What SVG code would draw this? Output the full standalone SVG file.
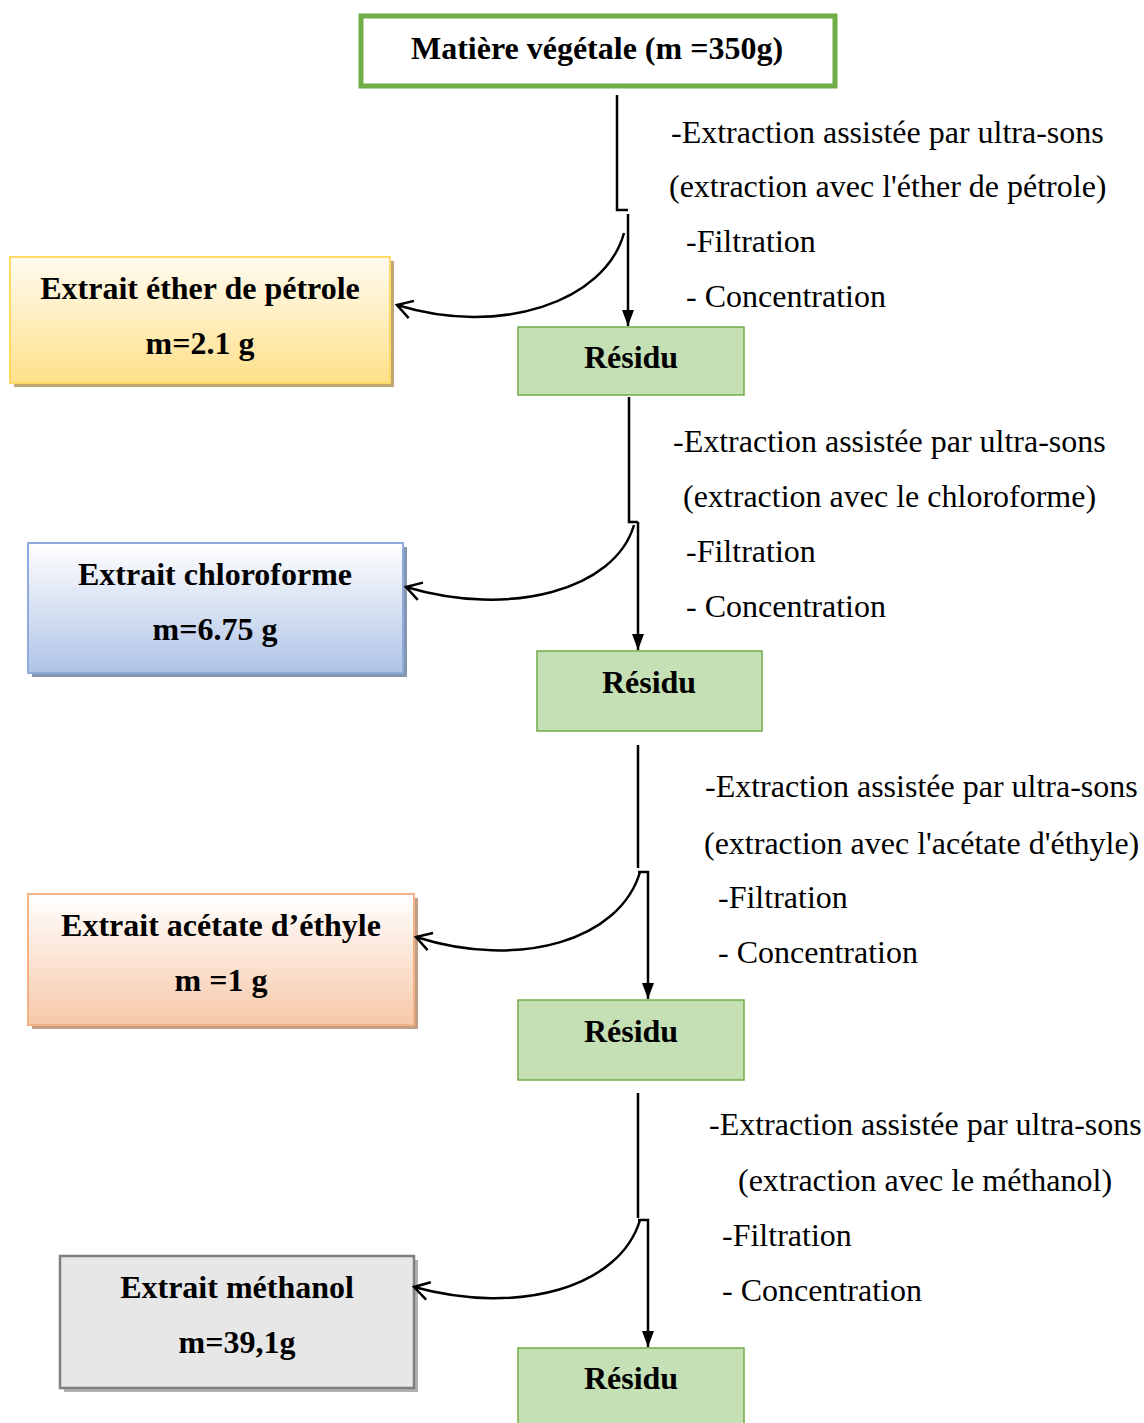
<svg xmlns="http://www.w3.org/2000/svg" width="1144" height="1423" viewBox="0 0 1144 1423">
<style>
.b{font-family:"Liberation Serif",Tinos,"Times New Roman",Times,"DejaVu Serif",serif;font-weight:bold;font-size:32px;fill:#000;text-anchor:middle}
.r{font-family:"Liberation Serif",Tinos,"Times New Roman",Times,"DejaVu Serif",serif;font-size:32px;fill:#000}
.ln{fill:none;stroke:#000;stroke-width:2.5}
.res{fill:#C5E0B4;stroke:#70AD47;stroke-width:1.5}
</style>
<defs>
<linearGradient id="gy" x1="0" y1="0" x2="0" y2="1"><stop offset="0" stop-color="#FFFBF0"/><stop offset="1" stop-color="#FFE08A"/></linearGradient>
<linearGradient id="gb" x1="0" y1="0" x2="0" y2="1"><stop offset="0" stop-color="#FFFFFF"/><stop offset="1" stop-color="#AFC3E6"/></linearGradient>
<linearGradient id="go" x1="0" y1="0" x2="0" y2="1"><stop offset="0" stop-color="#FFFFFF"/><stop offset="1" stop-color="#F7C8A8"/></linearGradient>
<marker id="fa" viewBox="0 0 16 12" refX="16" refY="6" markerWidth="16" markerHeight="12" markerUnits="userSpaceOnUse" orient="auto"><path d="M0,0 L16,6 L0,12 Z" fill="#000"/></marker>
<marker id="oa" viewBox="-18 -11 20 22" refX="0" refY="0" markerWidth="20" markerHeight="22" markerUnits="userSpaceOnUse" orient="auto" overflow="visible"><path d="M-15,-9 L0,0 L-15,9" fill="none" stroke="#000" stroke-width="2.5"/></marker>
</defs>

<g id="n-matiere">
<rect x="361" y="16" width="474" height="70" fill="#fff" stroke="#70AD47" stroke-width="5"/>
<text class="b" x="597" y="59">Matière végétale (m =350g)</text>
</g>

<g id="n-ether">
<rect x="14" y="261" width="380" height="126" fill="#BFA870"/>
<rect x="10" y="257" width="380" height="126" fill="url(#gy)" stroke="#FFD966" stroke-width="2"/>
<text class="b" x="200" y="299">Extrait éther de pétrole</text>
<text class="b" x="200" y="354">m=2.1 g</text>
</g>

<g id="n-residu1">
<rect x="518" y="327" width="226" height="68" class="res"/>
<text class="b" x="631" y="368">Résidu</text>
</g>

<g id="n-chloro">
<rect x="32" y="547" width="375" height="130" fill="#8496B0"/>
<rect x="28" y="543" width="375" height="130" fill="url(#gb)" stroke="#8FAADC" stroke-width="2"/>
<text class="b" x="215" y="585">Extrait chloroforme</text>
<text class="b" x="215" y="640">m=6.75 g</text>
</g>

<g id="n-residu2">
<rect x="537" y="651" width="225" height="80" class="res"/>
<text class="b" x="649" y="693">Résidu</text>
</g>

<g id="n-acetate">
<rect x="32" y="898" width="386" height="131" fill="#C29E86"/>
<rect x="28" y="894" width="386" height="131" fill="url(#go)" stroke="#F4B183" stroke-width="2"/>
<text class="b" x="221" y="936">Extrait acétate d’éthyle</text>
<text class="b" x="221" y="991">m =1 g</text>
</g>

<g id="n-residu3">
<rect x="518" y="1000" width="226" height="80" class="res"/>
<text class="b" x="631" y="1042">Résidu</text>
</g>

<g id="n-methanol">
<rect x="64" y="1260" width="354" height="132" fill="#B0B0B0"/>
<rect x="60" y="1256" width="354" height="132" fill="#E7E7E7" stroke="#7F7F7F" stroke-width="2.5"/>
<text class="b" x="237" y="1298">Extrait méthanol</text>
<text class="b" x="237" y="1353">m=39,1g</text>
</g>

<g id="n-residu4">
<rect x="518" y="1348" width="226" height="80" class="res"/>
<text class="b" x="631" y="1389">Résidu</text>
</g>

<g id="labels">
<text class="r" x="671" y="143">-Extraction assistée par ultra-sons</text>
<text class="r" x="669" y="197">(extraction avec l'éther de pétrole)</text>
<text class="r" x="686" y="252">-Filtration</text>
<text class="r" x="686" y="307">- Concentration</text>

<text class="r" x="673" y="452">-Extraction assistée par ultra-sons</text>
<text class="r" x="683" y="507">(extraction avec le chloroforme)</text>
<text class="r" x="686" y="562">-Filtration</text>
<text class="r" x="686" y="617">- Concentration</text>

<text class="r" x="705" y="797">-Extraction assistée par ultra-sons</text>
<text class="r" x="704" y="854">(extraction avec l'acétate d'éthyle)</text>
<text class="r" x="718" y="908">-Filtration</text>
<text class="r" x="718" y="963">- Concentration</text>

<text class="r" x="709" y="1135">-Extraction assistée par ultra-sons</text>
<text class="r" x="738" y="1191">(extraction avec le méthanol)</text>
<text class="r" x="722" y="1246">-Filtration</text>
<text class="r" x="722" y="1301">- Concentration</text>
</g>

<g id="connectors">
<path class="ln" d="M617,95 V210 H628"/>
<path class="ln" d="M628,214 V326" marker-end="url(#fa)"/>
<path class="ln" d="M624,233 C605,302 500,337 397,305" marker-end="url(#oa)"/>

<path class="ln" d="M629,397 V522 H638"/>
<path class="ln" d="M638,522 V650" marker-end="url(#fa)"/>
<path class="ln" d="M634,525 C615,590 510,618 406,587" marker-end="url(#oa)"/>

<path class="ln" d="M638,745 V868"/>
<path class="ln" d="M638,872 H648 V999" marker-end="url(#fa)"/>
<path class="ln" d="M640,872 C620,940 520,970 416,937" marker-end="url(#oa)"/>

<path class="ln" d="M638,1093 V1218"/>
<path class="ln" d="M638,1220 H648 V1347" marker-end="url(#fa)"/>
<path class="ln" d="M640,1220 C620,1287 520,1316 414,1287" marker-end="url(#oa)"/>
</g>
</svg>
